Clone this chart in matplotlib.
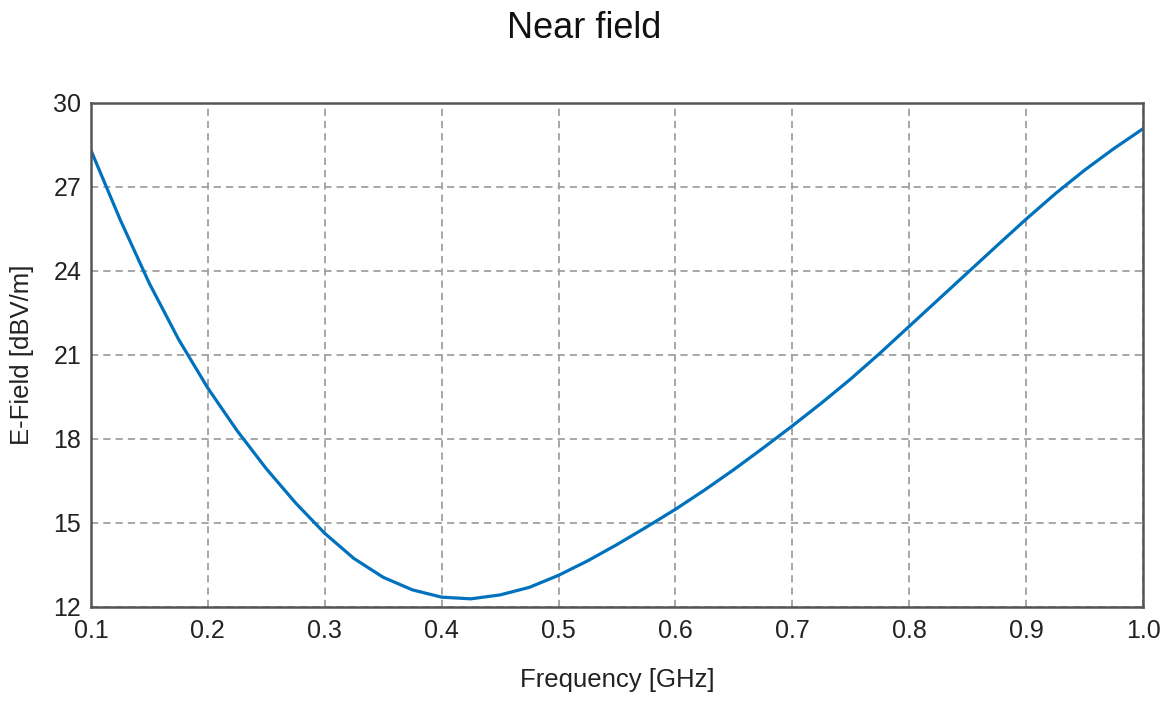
import numpy as np
import matplotlib.pyplot as plt

# Werte (Schritt 0.025 GHz)
freq = [0.100, 0.125, 0.150, 0.175, 0.200, 0.225, 0.250, 0.275, 0.300,
        0.325, 0.350, 0.375, 0.400, 0.425, 0.450, 0.475, 0.500, 0.525,
        0.550, 0.575, 0.600, 0.625, 0.650, 0.675, 0.700, 0.725, 0.750,
        0.775, 0.800, 0.825, 0.850, 0.875, 0.900, 0.925, 0.950, 0.975,
        1.000]
efield = [28.31, 25.83, 23.55, 21.55, 19.81, 18.29, 16.93, 15.71, 14.62,
          13.72, 13.05, 12.60, 12.34, 12.28, 12.42, 12.69, 13.12, 13.64,
          14.22, 14.84, 15.48, 16.17, 16.90, 17.67, 18.46, 19.28, 20.14,
          21.06, 22.02, 22.98, 23.94, 24.90, 25.85, 26.76, 27.60, 28.37,
          29.08]

xticks = [0.1, 0.2, 0.3, 0.4, 0.5, 0.6, 0.7, 0.8, 0.9, 1.0]
yticks = [12, 15, 18, 21, 24, 27, 30]

plt.rcParams['font.family'] = ['Liberation Sans', 'DejaVu Sans']

fig = plt.figure(figsize=(11.69, 7.02), dpi=100)
ax = fig.add_axes([0.0778, 0.1358, 0.9, 0.7175])

ax.plot(freq, efield, color="#0072BD", lw=2.3, solid_capstyle="round",
        solid_joinstyle="round")

ax.set_xlim(0.1, 1.0)
ax.set_ylim(12, 30)
ax.set_xticks(xticks)
ax.set_xticklabels(["%.1f" % t for t in xticks])
ax.set_yticks(yticks)
ax.tick_params(length=0, labelsize=18, colors="#222222")
ax.tick_params(axis="x", pad=9)
ax.tick_params(axis="y", pad=7)

ax.grid(True, color="#a0a0a0", ls=(0, (4, 2.8)), lw=1.3)
for s in ax.spines.values():
    s.set_color("#555555")
    s.set_linewidth(1.8)

ax.set_xlabel("Frequency [GHz]", fontsize=18.5, color="#222222", labelpad=18)
ax.set_ylabel("E-Field [dBV/m]", fontsize=18.5, color="#222222", labelpad=14)
fig.suptitle("Near field", fontsize=26, color="#111111", y=0.985)

fig.savefig("out.png", dpi=100)
